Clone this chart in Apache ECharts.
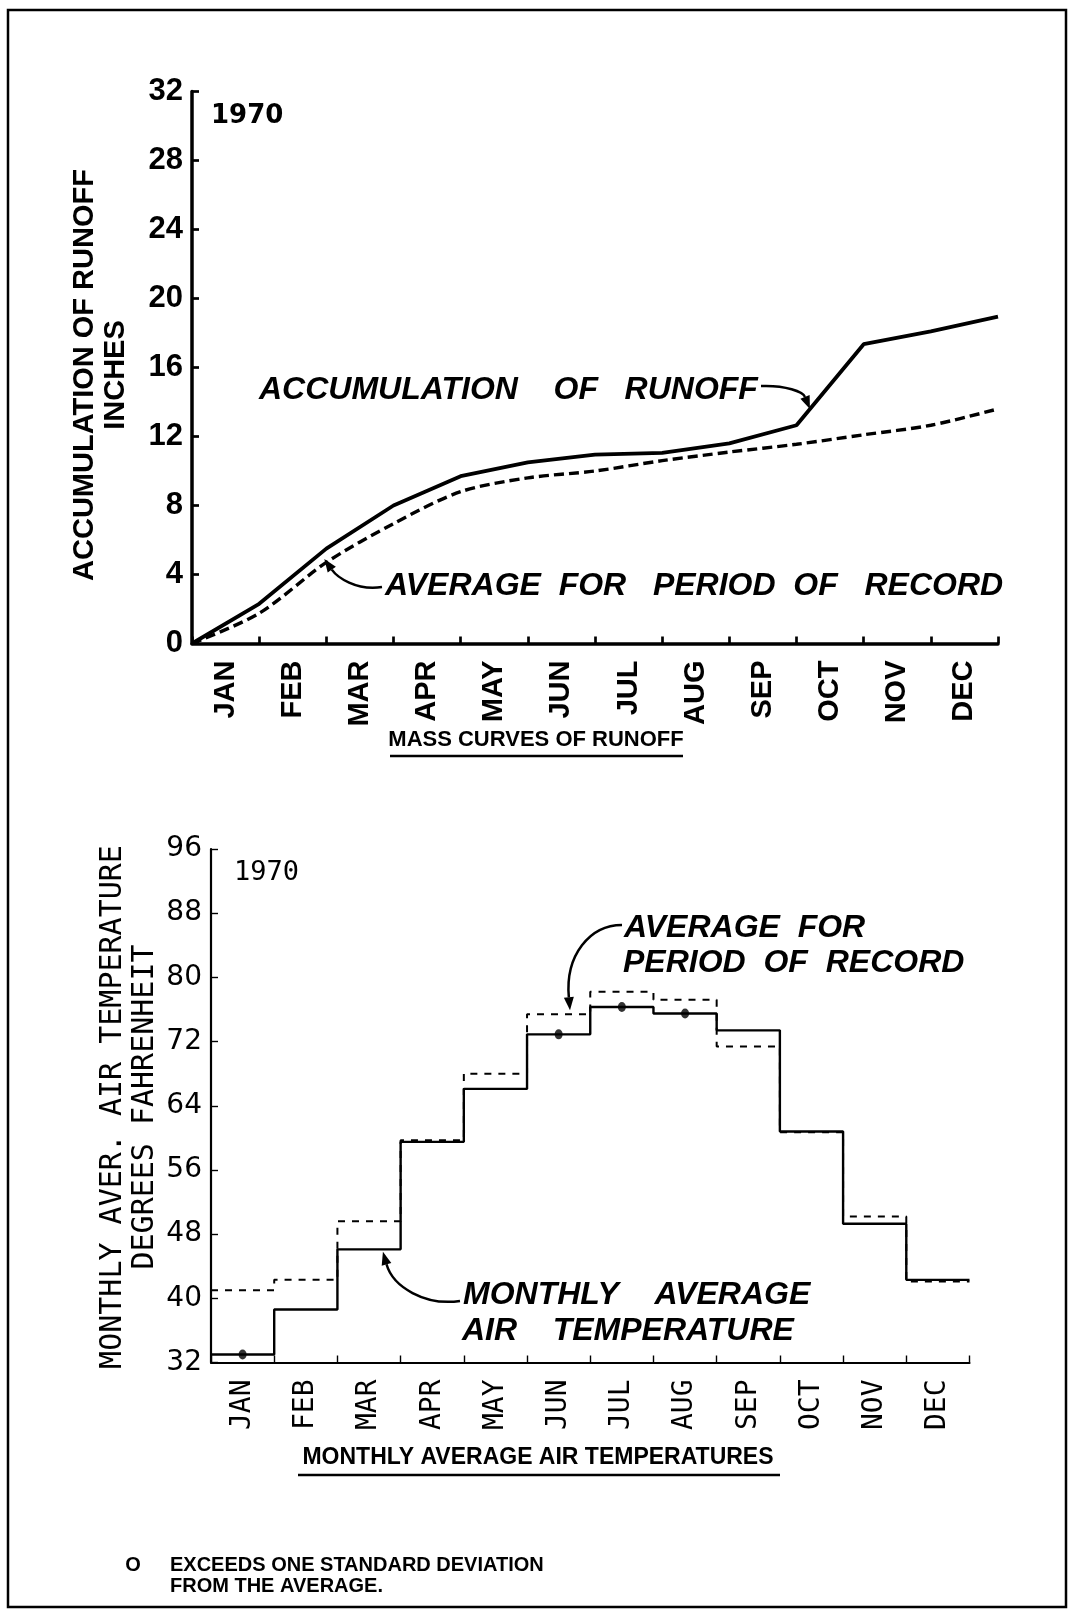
<!DOCTYPE html>
<html>
<head>
<meta charset="utf-8">
<script src="https://cdn.jsdelivr.net/npm/echarts/dist/echarts.min.js"></script>
<style>
  html, body { margin: 0; padding: 0; background: #fff; }
  #c { width: 1068px; height: 1610px; }
</style>
</head>
<body>
<div id="c"></div>
<script>
// months on both charts
const months = ['JAN', 'FEB', 'MAR', 'APR', 'MAY', 'JUN', 'JUL', 'AUG', 'SEP', 'OCT', 'NOV', 'DEC'];

// accumulated runoff (inches) at each month boundary, start of Jan .. end of Dec
const runoff1970 = [0, 2.3, 5.5, 8.0, 9.7, 10.5, 10.95, 11.05, 11.6, 12.65, 17.35, 18.1, 18.95];
const runoffAvg  = [0, 1.75, 4.7, 6.95, 8.8, 9.6, 10.0, 10.6, 11.1, 11.55, 12.1, 12.65, 13.6];

// monthly average air temperature (deg F)
const temp1970 = [33.0, 38.6, 46.1, 59.5, 66.1, 72.9, 76.3, 75.5, 73.4, 60.8, 49.3, 42.3];
const tempAvg  = [41.0, 42.3, 49.6, 59.7, 68.0, 75.4, 78.2, 77.2, 71.4, 60.7, 50.2, 42.1];

// months that exceed one standard deviation
const exceeds = ['JAN', 'JUN', 'JUL', 'AUG'];

let chart = echarts.init(document.getElementById('c'));

const black = '#000';
function boundaryPts(arr) {
    return arr.map((v, i) => [i, v]);
}
function stepPts(arr) {
    // repeat last month so the step runs to the end of december
    return arr.concat([arr[arr.length - 1]]).map((v, i) => [i, v]);
}
let dots = exceeds.map(m => {
    let i = months.indexOf(m);
    return [i + 0.5, temp1970[i]];
});

function catAxis(grid, lw, font) {
    return {
        gridIndex: grid, type: 'category', data: months, boundaryGap: true,
        axisLine: { show: true, lineStyle: { color: black, width: lw } },
        axisTick: { show: true, inside: true, length: 7, interval: 0, lineStyle: { color: black, width: lw - 0.8 } },
        axisLabel: Object.assign({ rotate: 90, margin: 17, interval: 0, color: black }, font),
        splitLine: { show: false }
    };
}
function valAxis(grid, min, max, step, lw, font) {
    return {
        gridIndex: grid, type: 'value', min: min, max: max, interval: step,
        axisLine: { show: true, lineStyle: { color: black, width: lw } },
        axisTick: { show: true, inside: true, length: 7, lineStyle: { color: black, width: lw - 0.8 } },
        axisLabel: Object.assign({ margin: 9, color: black }, font),
        splitLine: { show: false }
    };
}

let option = {
    animation: false,
    backgroundColor: '#fff',
    grid: [
        { left: 192, top: 91.5, width: 806, height: 552 },
        { left: 211, top: 849, width: 758.5, height: 513.5 }
    ],
    xAxis: [
        catAxis(0, 3.5, { fontFamily: 'Liberation Sans', fontWeight: 'bold', fontSize: 29 }),
        { gridIndex: 0, type: 'value', min: 0, max: 12, show: false },
        catAxis(1, 2.2, { fontFamily: 'DejaVu Sans Mono', fontSize: 28 }),
        { gridIndex: 1, type: 'value', min: 0, max: 12, show: false }
    ],
    yAxis: [
        valAxis(0, 0, 32, 4, 3.5, { fontFamily: 'Liberation Sans', fontWeight: 'bold', fontSize: 31 }),
        valAxis(1, 32, 96, 8, 2.2, { fontFamily: 'DejaVu Sans', fontSize: 28 })
    ],
    series: [
        {
            name: 'avg runoff', type: 'line', xAxisIndex: 1, yAxisIndex: 0,
            data: boundaryPts(runoffAvg), showSymbol: false, smooth: 0.3,
            lineStyle: { color: black, width: 3.4, type: [10, 5] }
        },
        {
            name: 'runoff 1970', type: 'line', xAxisIndex: 1, yAxisIndex: 0,
            data: boundaryPts(runoff1970), showSymbol: false,
            lineStyle: { color: black, width: 3.8 }
        },
        {
            name: 'avg temp', type: 'line', xAxisIndex: 3, yAxisIndex: 1,
            data: stepPts(tempAvg), step: 'end', showSymbol: false,
            lineStyle: { color: black, width: 2, type: [7, 7] }
        },
        {
            name: 'temp 1970', type: 'line', xAxisIndex: 3, yAxisIndex: 1,
            data: stepPts(temp1970), step: 'end', showSymbol: false,
            lineStyle: { color: black, width: 2.4 }
        },
        {
            name: 'exceeds', type: 'scatter', xAxisIndex: 3, yAxisIndex: 1,
            data: dots, symbol: 'circle', symbolSize: [8, 10],
            itemStyle: { color: black }
        }
    ]
};
chart.setOption(option);

// ---- annotations ----
function px(series, p) {
    return chart.convertToPixel({ seriesIndex: series }, p);
}
function arrow(p0, c1, c2, tip, w) {
    let ang = Math.atan2(tip[1] - c2[1], tip[0] - c2[0]);
    let L = 13, W = 5;
    let bx = tip[0] - L * Math.cos(ang), by = tip[1] - L * Math.sin(ang);
    let nx = -Math.sin(ang), ny = Math.cos(ang);
    return [
        {
            type: 'bezierCurve',
            shape: { x1: p0[0], y1: p0[1], cpx1: c1[0], cpy1: c1[1], cpx2: c2[0], cpy2: c2[1], x2: bx, y2: by },
            style: { stroke: black, lineWidth: w, fill: null }
        },
        {
            type: 'polygon',
            shape: { points: [tip, [bx + nx * W, by + ny * W], [bx - nx * W, by - ny * W]] },
            style: { fill: black }
        }
    ];
}
function txt(s, x, y, font, align, rot) {
    return {
        type: 'text', x: x, y: y, rotation: rot || 0,
        style: { text: s, font: font, fill: black, align: align || 'left', verticalAlign: 'middle' }
    };
}
const ital = 'italic bold 32px "Liberation Sans"';
const foot = 'bold 20px "Liberation Sans"';

let t1 = px(1, [9.2, 13.6]);
let t2 = px(0, [1.97, 4.9]);
let t3 = px(2, [5.68, 75.9]);
let t4 = px(3, [2.72, 45.8]);

let g = [
    { type: 'rect', shape: { x: 8, y: 10, width: 1058, height: 1597 }, style: { stroke: black, lineWidth: 2.5, fill: null } },

    // top chart
    txt('1970', 211, 116, 'bold 26px "DejaVu Sans"'),
    txt('ACCUMULATION OF RUNOFF', 85, 375, 'bold 29px "Liberation Sans"', 'center', Math.PI / 2),
    txt('INCHES', 116, 375, 'bold 29px "Liberation Sans"', 'center', Math.PI / 2),
    txt('ACCUMULATION    OF   RUNOFF', 259, 390, ital),
    txt('AVERAGE  FOR   PERIOD  OF   RECORD', 385, 586, ital),
    txt('MASS CURVES OF RUNOFF', 536, 740, 'bold 22px "Liberation Sans"', 'center'),
    { type: 'line', shape: { x1: 390, y1: 756, x2: 683, y2: 756 }, style: { stroke: black, lineWidth: 2.5 } },

    // bottom chart
    txt('1970', 234, 873, '27px "DejaVu Sans Mono"'),
    txt('MONTHLY AVER. AIR TEMPERATURE', 113, 1107, '30px "DejaVu Sans Mono"', 'center', Math.PI / 2),
    txt('DEGREES FAHRENHEIT', 145, 1107, '30px "DejaVu Sans Mono"', 'center', Math.PI / 2),
    txt('AVERAGE  FOR', 624, 928, ital),
    txt('PERIOD  OF  RECORD', 623, 963, ital),
    txt('MONTHLY    AVERAGE', 463, 1295, ital),
    txt('AIR    TEMPERATURE', 462, 1331, ital),
    txt('MONTHLY AVERAGE AIR TEMPERATURES', 538, 1458, 'bold 23px "Liberation Sans"', 'center'),
    { type: 'line', shape: { x1: 298, y1: 1475, x2: 780, y2: 1475 }, style: { stroke: black, lineWidth: 2.5 } },

    // footnote
    txt('O', 133, 1565, foot, 'center'),
    txt('EXCEEDS ONE STANDARD DEVIATION', 170, 1565, foot),
    txt('FROM THE AVERAGE.', 170, 1586, foot)
];
g = g.concat(
    arrow([761, 386], [786, 385], [803, 392], t1, 2.5),
    arrow([382, 587], [356, 591], [337, 577], t2, 2.5),
    arrow([622, 925], [590, 925], [565, 955], t3, 2.5),
    arrow([460, 1301], [425, 1306], [393, 1287], t4, 2.5)
);
chart.setOption({ graphic: g });
</script>
</body>
</html>
